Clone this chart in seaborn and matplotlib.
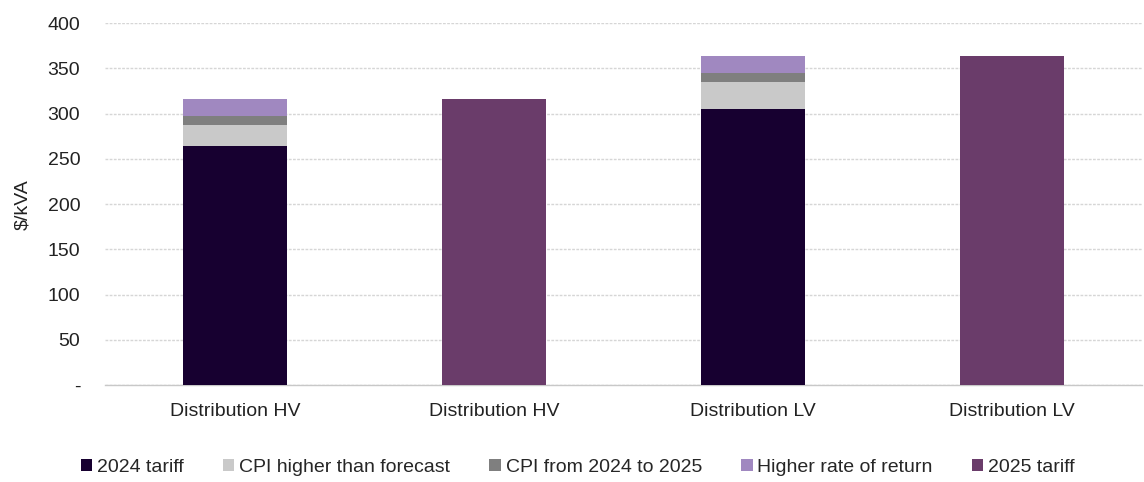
import matplotlib
matplotlib.use("Agg")
import matplotlib.pyplot as plt
import seaborn as sns
import pandas as pd
import numpy as np
from matplotlib.patches import Patch

categories = ["Distribution HV", "Distribution HV", "Distribution LV", "Distribution LV"]
series = ["2024 tariff", "CPI higher than forecast", "CPI from 2024 to 2025", "Higher rate of return", "2025 tariff"]
tariff_2024 = [264, 0, 305, 0]
cpi_higher = [23, 0, 30, 0]
cpi_24_25 = [10, 0, 10, 0]
higher_ror = [19, 0, 19, 0]
tariff_2025 = [0, 316, 0, 364]
colors = ["#170030", "#c9c9c9", "#7f7f7f", "#a088c0", "#6a3c6a"]

sns.set_theme(style="white")
plt.rcParams["font.family"] = ["Liberation Sans", "DejaVu Sans"]

FS = 14
fig = plt.figure(figsize=(11.44, 4.82), dpi=100)
ax = fig.add_axes([0.092, 0.201, 0.906, 0.751])

keys = [f"c{i}" for i in range(len(categories))]
values = [tariff_2024, cpi_higher, cpi_24_25, higher_ror, tariff_2025]
bottom = np.zeros(len(categories))
for name, vals, col in zip(series, values, colors):
    df = pd.DataFrame({"key": keys, "val": vals})
    sns.barplot(data=df, x="key", y="val", color=col, width=0.4, ax=ax,
                bottom=bottom.copy(), linewidth=0, saturation=1, zorder=3)
    bottom += np.array(vals)

ax.set_xlim(-0.5, 3.5)
ax.set_ylim(0, 400)
ax.set_yticks(range(0, 401, 50))
ax.set_yticklabels(["-"] + [str(v) for v in range(50, 401, 50)], fontsize=FS, color="#222222")
ax.set_xticks(range(len(categories)))
ax.set_xticklabels(categories, fontsize=FS, color="#222222")
ax.set_xlabel("")
ax.set_ylabel("$/kVA", fontsize=FS, color="#222222", labelpad=12)
ax.tick_params(axis="y", length=0, pad=18)
ax.tick_params(axis="x", length=0, pad=13)
ax.grid(axis="y", color="#d6d6d6", linestyle=(0, (2, 1)), linewidth=1, zorder=0)
for s in ["top", "right", "left"]:
    ax.spines[s].set_visible(False)
ax.spines["bottom"].set_color("#c8c8c8")
ax.spines["bottom"].set_linewidth(1)

handles = [Patch(facecolor=c, edgecolor="none") for c in colors]
fig.legend(handles, series, loc="center", bbox_to_anchor=(0.505, 0.031), ncol=5,
           frameon=False, fontsize=FS, handlelength=0.6, handleheight=0.6,
           handletextpad=0.25, columnspacing=2.0)

fig.savefig("out.png", dpi=100)
